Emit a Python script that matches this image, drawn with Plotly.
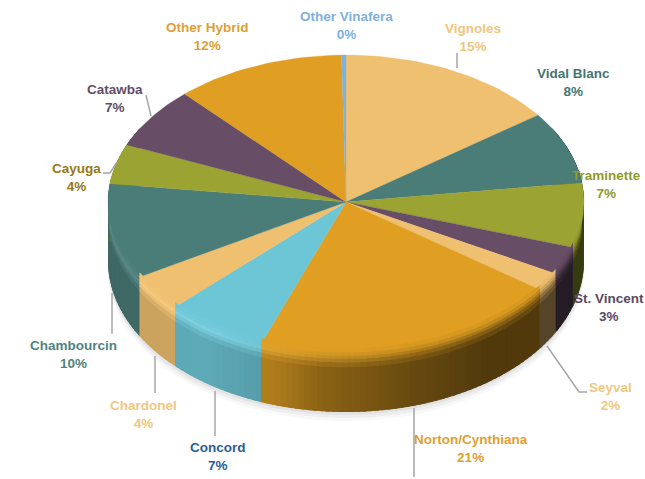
import math
import plotly.graph_objects as go

categories = ["Vignoles", "Vidal Blanc", "Traminette", "St. Vincent", "Seyval",
              "Norton/Cynthiana", "Concord", "Chardonel", "Chambourcin", "Cayuga",
              "Catawba", "Other Hybrid", "Other Vinafera"]
values = [15, 8, 7, 3, 2, 21, 7, 4, 10.3, 4.4, 6.8, 11.6, 0.3]
slice_colors = ["#EFC070", "#4A7C78", "#9BA332", "#674D66", "#EFC070", "#E09F22",
                "#6DC6D6", "#EFC070", "#4A7C78", "#9BA332", "#674D66", "#E09F22", "#7FB1DD"]
label_colors = ["#F0C67E", "#3F7672", "#8F9A2C", "#5A4A62", "#EFC880", "#DFA030",
                "#2B5D92", "#F0C880", "#4F8480", "#957720", "#5F4E68", "#E09F32", "#7FB1DD"]
label_x = [473, 573, 606, 609, 610, 471, 218, 143, 73, 76, 115, 207, 346]
label_y = [37, 82, 184, 307, 396, 448, 456, 414, 354, 177, 98, 36, 25]
leaders = [[(457, 53), (457, 68)], [(146, 95), (151, 116)], [(103, 173), (110, 173), (117, 162)],
           [(112, 293), (112, 334)], [(155, 356), (155, 393)], [(215, 391), (215, 436)],
           [(547, 346), (579, 392), (587, 392)], [(414, 408), (414, 477)]]

CX, CY, RX, RY_TOP, RY_BOT, DEPTH = 346, 202, 238, 147, 151, 59
FONT = "Liberation Sans"


def pt(deg, drop=0.0):
    a = math.radians(deg)
    c = math.cos(a)
    return CX + RX * math.sin(a), CY - (RY_TOP if c > 0 else RY_BOT) * c + drop


def rgb(h):
    return tuple(int(h[i:i + 2], 16) for i in (1, 3, 5))


def css(c):
    return "rgb(%d,%d,%d)" % tuple(max(0, min(255, round(v))) for v in c)


def wall_shade(x):
    u = (x - 108) / 475
    stops = [(0, .84), (.2, .86), (.35, .78), (.45, .62), (.62, .48), (.8, .36), (1, .36)]
    for (a, p), (b, q) in zip(stops, stops[1:]):
        if u <= b:
            return p + (q - p) * (u - a) / (b - a)
    return .36


fig = go.Figure()


def poly(xs, ys, color, opacity=1, width=0.0):
    fig.add_trace(go.Scatter(x=xs, y=ys, mode="lines", fill="toself", fillcolor=color,
                             opacity=opacity, line=dict(color=color, width=width),
                             hoverinfo="skip", showlegend=False))


# soft ground shadow
for off, op in [(9, .05), (6, .07), (3, .09)]:
    ts = [90 + i * 2 for i in range(91)]
    pts = [pt(t, DEPTH + off) for t in ts]
    poly([p[0] for p in pts], [p[1] for p in pts], "#707070", op, 0)

total = sum(values)
bounds = [0]
for v in values:
    bounds.append(bounds[-1] + 360 * v / total)


def draw_bands(bands, amin, amax):
    """Strips follow the slice angles; each overlaps the next so no seams show."""
    for d0, d1, mix in bands:
        for i, col in enumerate(slice_colors):
            base = rgb(col)
            a0, a1 = bounds[i], bounds[i + 1]
            a = max(a0, amin)
            while a < min(a1, amax):
                b = min(a + 1.5, a1, amax)
                draw_to = min(b + 1.0, a1, amax)
                x = pt((a + b) / 2)[0]
                s = wall_shade(x)
                left = max(0, min(1, (420 - x) / 200))
                wc = [v * ((1 - mix) + s * mix) for v in base]
                if mix < 1 and left > 0:
                    glow = left * (1 - abs(mix - .5) * 2) * 25
                    wc = [v + glow for v in wc]
                p = [pt(a, d0 * DEPTH), pt(draw_to, d0 * DEPTH),
                     pt(draw_to, d1 * DEPTH), pt(a, d1 * DEPTH)]
                poly([q[0] for q in p] + [p[0][0]], [q[1] for q in p] + [p[0][1]], css(wc))
                a = b


# neutral underlay so slice joins on the wall do not show white
under = [pt(60 + k * 4) for k in range(61)]
poly([p[0] for p in under] + [p[0] for p in reversed([pt(60 + k * 4, DEPTH - .5) for k in range(61)])],
     [p[1] for p in under] + [p[1] for p in reversed([pt(60 + k * 4, DEPTH - .5) for k in range(61)])],
     "#6E5A3A")

# side wall
draw_bands([(0, 1, 1)], 60, 300)

# top face
for i, col in enumerate(slice_colors):
    a0, a1 = bounds[i], bounds[i + 1]
    n = max(2, int((a1 - a0) / 1.5))
    arc = [pt(a0 + (a1 - a0) * k / n) for k in range(n + 1)]
    poly([CX] + [p[0] for p in arc] + [CX], [CY] + [p[1] for p in arc] + [CY], col, 1, 0.3)

# bevel along the front rim
draw_bands([(.14, .24, .85), (.09, .16, .65), (.04, .1, .42), (-.02, .05, .2), (-.08, -.01, .06)], 98, 268)

for line in leaders:
    fig.add_trace(go.Scatter(x=[p[0] for p in line], y=[p[1] for p in line], mode="lines",
                             line=dict(color="#A6A6A6", width=1.5), hoverinfo="skip", showlegend=False))

for name, v, c, x, y in zip(categories, values, label_colors, label_x, label_y):
    fig.add_annotation(x=x, y=y, text="<b>%s<br>%d%%</b>" % (name, round(100 * v / total)),
                       showarrow=False, xanchor="center", yanchor="middle",
                       font=dict(family=FONT, size=13.5, color=c))

fig.update_layout(width=645, height=479, margin=dict(l=0, r=0, t=0, b=0),
                  paper_bgcolor="white", plot_bgcolor="white", showlegend=False,
                  xaxis=dict(range=[0, 645], visible=False, fixedrange=True),
                  yaxis=dict(range=[479, 0], visible=False, fixedrange=True))
fig.write_html("out.html", config=dict(displayModeBar=False),
               post_script="document.body.style.margin='0';document.body.style.overflow='hidden';")
